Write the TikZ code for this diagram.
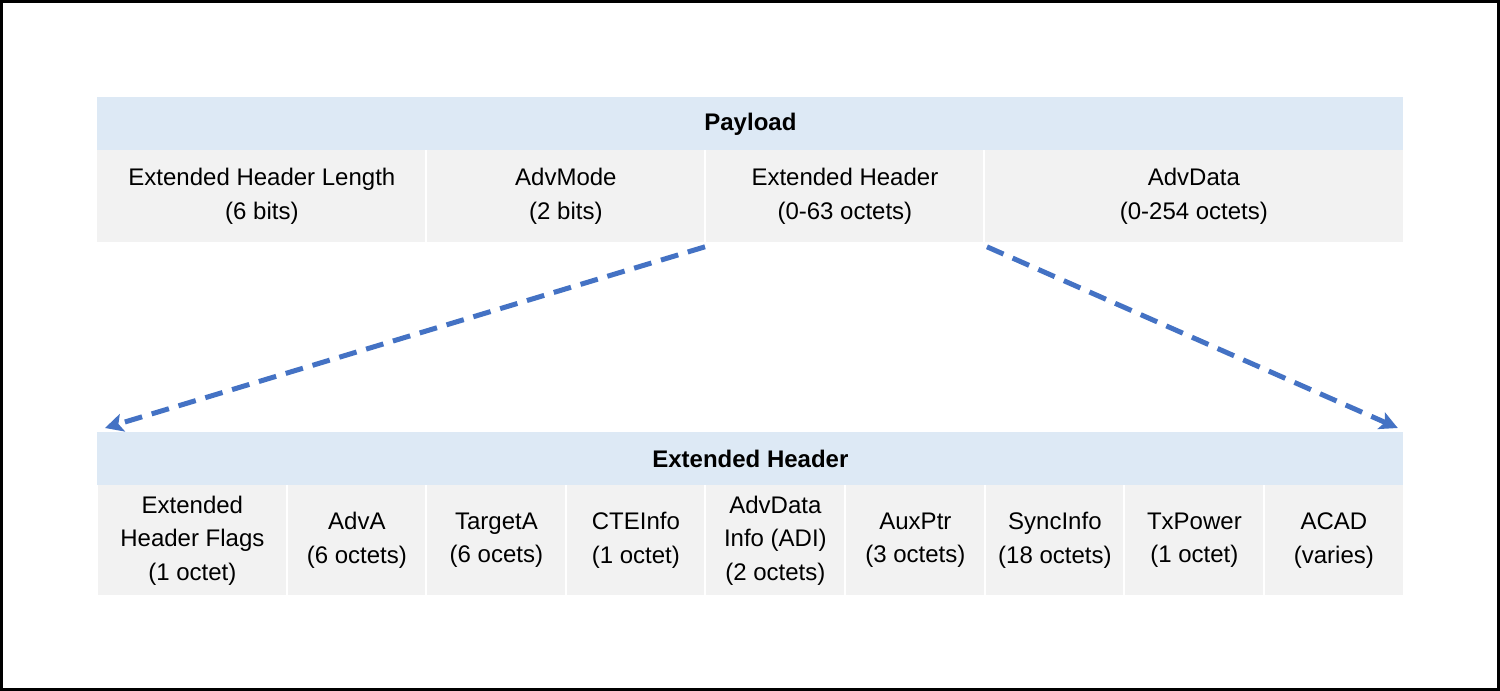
\documentclass[tikz,border=0pt]{standalone}
\usepackage{fontspec}
\setmainfont{Liberation Sans}
\usetikzlibrary{calc,arrows.meta}
\definecolor{hdrblue}{HTML}{DDE9F5}
\definecolor{cellgray}{HTML}{F2F2F2}
\definecolor{arrowblue}{HTML}{4472C4}
\tikzset{
  hdrcell/.style={fill=hdrblue,inner sep=0pt,minimum width=653pt,minimum height=26.5pt,font=\fontsize{12}{14}\selectfont\bfseries},
  cell/.style={fill=cellgray,inner sep=0pt,align=center,font=\fontsize{12}{16.8}\selectfont},
  divider/.style={white,line width=0.6pt},
  spread/.style={arrowblue,line width=2.5pt,dash pattern=on 9pt off 5pt,-{Stealth[length=9pt,width=9pt,inset=2pt]}}
}
\begin{document}
\begin{tikzpicture}[x=0.5pt,y=-0.5pt]
\draw[black,line width=1.5pt,fill=white] (1.5,1.5) rectangle (1498.5,689.5);
% Payload
\node[hdrcell,anchor=north west] (pl) at (97,97) {Payload};
\node[cell,anchor=north west,minimum width=164.5pt,minimum height=46pt] (ehl) at (97,150) {Extended Header Length\\(6 bits)};
\node[cell,anchor=north west,minimum width=139.5pt,minimum height=46pt] (am) at (426,150) {AdvMode\\(2 bits)};
\node[cell,anchor=north west,minimum width=139.5pt,minimum height=46pt] (eh) at (705,150) {Extended Header\\(0-63 octets)};
\node[cell,anchor=north west,minimum width=209.5pt,minimum height=46pt] (ad) at (984,150) {AdvData\\(0-254 octets)};
\draw[divider] (am.north west) -- (am.south west);
\draw[divider] (eh.north west) -- (eh.south west);
\draw[divider] (ad.north west) -- (ad.south west);
% Extended Header
\node[hdrcell,anchor=north west] (xh) at (97,432) {Extended Header};
\foreach \x/\w/\name/\txt in {
  97/95/ehf/{Extended\\Header Flags\\(1 octet)},
  287/69.5/adva/{AdvA\\(6 octets)},
  426/70/tgta/{TargetA\\(6 ocets)},
  566/69.5/cte/{CTEInfo\\(1 octet)},
  705/70/adi/{AdvData\\Info (ADI)\\(2 octets)},
  845/70/aux/{AuxPtr\\(3 octets)},
  985/69.5/sync/{SyncInfo\\(18 octets)},
  1124/70/txp/{TxPower\\(1 octet)},
  1264/69.5/acad/{ACAD\\(varies)}}
{
  \node[cell,anchor=north west,minimum width=\w pt,minimum height=55pt] (\name) at (\x,485) {\txt};
  \draw[divider] (\name.north west) -- (\name.south west);
}
% Spread arrows
\draw[spread] ($(eh.south west)+(0,4)$) -- ($(xh.north west)+(8,-4)$);
\draw[spread] ($(ad.south west)+(3,4)$) -- ($(xh.north east)+(-6,-4)$);
\end{tikzpicture}
\end{document}
